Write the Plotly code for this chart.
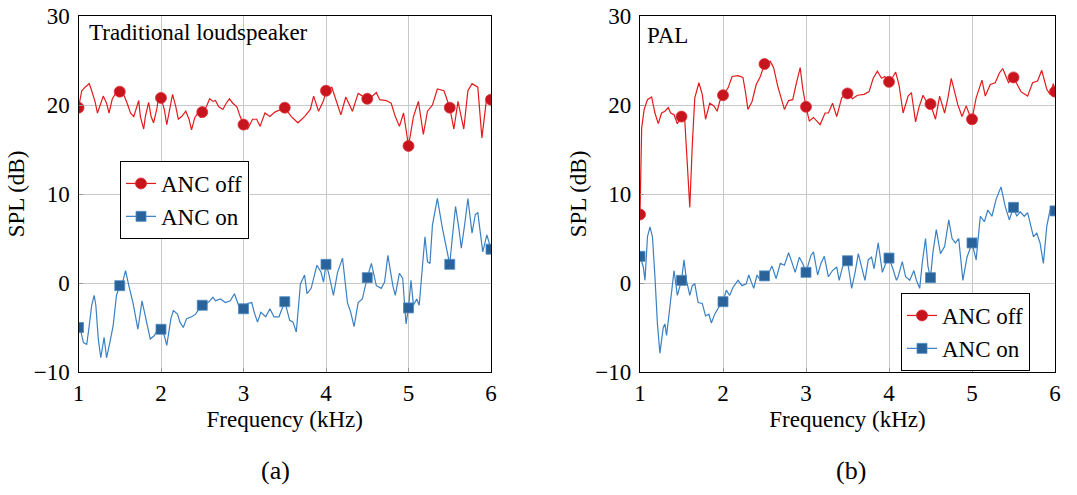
import plotly.graph_objects as go

# ---------------- data ----------------
# Panel (a): traditional loudspeaker, ANC off
fa_off = [1.00, 1.04, 1.08, 1.13, 1.16, 1.20, 1.23, 1.27, 1.30, 1.34, 1.37, 1.41, 1.45, 1.50,
          1.55, 1.59, 1.63, 1.67, 1.73, 1.75, 1.79, 1.81, 1.85, 1.88, 1.91, 1.95, 1.97, 2.00,
          2.04, 2.07, 2.11, 2.14, 2.18, 2.21, 2.25, 2.30, 2.34, 2.37, 2.41, 2.45, 2.48, 2.50,
          2.55, 2.59, 2.63, 2.66, 2.70, 2.75, 2.79, 2.83, 2.87, 2.92, 2.96, 3.00, 3.05, 3.11,
          3.16, 3.20, 3.26, 3.32, 3.38, 3.43, 3.50, 3.58, 3.66, 3.74, 3.81, 3.85, 3.91, 3.97,
          4.00, 4.07, 4.12, 4.18, 4.24, 4.32, 4.39, 4.46, 4.50, 4.55, 4.61, 4.65, 4.73, 4.79,
          4.84, 4.89, 4.94, 5.00, 5.06, 5.12, 5.18, 5.23, 5.29, 5.35, 5.43, 5.50, 5.55, 5.60,
          5.67, 5.72, 5.77, 5.84, 5.89, 5.95, 6.00]
va_off = [19.7, 21.6, 22.0, 22.4, 21.6, 20.4, 19.1, 20.2, 21.0, 20.2, 19.1, 20.7, 21.3, 21.5,
          21.1, 20.2, 19.1, 18.7, 20.5, 18.7, 17.3, 18.7, 20.3, 18.7, 18.0, 19.6, 20.9, 20.8,
          19.5, 17.8, 19.8, 21.2, 19.8, 18.4, 18.7, 19.3, 18.4, 17.2, 18.6, 19.1, 18.6, 19.2,
          19.8, 20.7, 20.4, 20.5, 19.8, 19.5, 20.2, 20.7, 20.2, 19.8, 18.7, 17.8, 17.3, 18.4,
          18.4, 17.6, 19.1, 18.7, 19.2, 19.4, 19.7, 18.7, 18.0, 18.7, 19.5, 21.0, 19.3, 20.5,
          21.6, 22.0, 20.5, 18.9, 20.9, 19.3, 21.3, 20.9, 20.7, 20.9, 21.4, 20.6, 20.5, 20.2,
          18.7, 17.6, 19.1, 15.4, 18.7, 20.4, 16.7, 19.3, 20.0, 21.8, 21.6, 19.7, 17.3, 20.4,
          17.3, 21.6, 22.4, 22.0, 16.3, 21.0, 20.6]

# Panel (a): ANC on
fa_on = [1.00, 1.03, 1.06, 1.10, 1.13, 1.16, 1.19, 1.21, 1.24, 1.27, 1.31, 1.34, 1.38, 1.42,
         1.46, 1.50, 1.54, 1.57, 1.61, 1.66, 1.69, 1.72, 1.77, 1.81, 1.87, 1.92, 1.96, 2.00,
         2.04, 2.07, 2.12, 2.15, 2.20, 2.23, 2.27, 2.31, 2.37, 2.42, 2.46, 2.50, 2.57, 2.63,
         2.66, 2.72, 2.78, 2.84, 2.89, 2.94, 3.00, 3.05, 3.10, 3.13, 3.17, 3.21, 3.27, 3.32,
         3.37, 3.43, 3.50, 3.56, 3.60, 3.64, 3.67, 3.69, 3.74, 3.77, 3.82, 3.85, 3.89, 3.94,
         3.97, 4.00, 4.03, 4.09, 4.14, 4.20, 4.26, 4.30, 4.34, 4.39, 4.44, 4.50, 4.55, 4.61,
         4.67, 4.71, 4.75, 4.81, 4.84, 4.89, 4.93, 4.97, 5.00, 5.03, 5.06, 5.10, 5.13, 5.17,
         5.20, 5.23, 5.26, 5.29, 5.35, 5.41, 5.47, 5.50, 5.53, 5.57, 5.61, 5.64, 5.68, 5.72,
         5.77, 5.81, 5.84, 5.90, 5.95, 6.00]
va_on = [-5.0, -5.5, -6.7, -6.9, -4.8, -2.5, -1.4, -2.5, -6.3, -8.4, -6.1, -8.4, -6.7, -4.8,
         -1.4, -0.3, 0.3, 1.4, -0.3, -2.2, -3.7, -5.2, -2.0, -3.7, -6.3, -5.9, -5.2, -5.2,
         -5.9, -7.0, -4.0, -3.1, -3.5, -4.4, -5.0, -4.0, -3.8, -3.5, -2.9, -2.5, -2.2, -1.6,
         -2.0, -1.8, -2.2, -2.0, -1.2, -2.5, -2.9, -2.3, -2.2, -3.3, -4.4, -3.3, -3.8, -2.9,
         -3.8, -3.8, -2.1, -4.2, -4.4, -5.5, -2.2, -0.1, 0.9, -1.2, -0.6, 0.5, 2.0, 1.2,
         0.1, 2.1, 1.2, -1.4, 1.2, 2.8, -2.2, -3.3, -4.9, -2.2, -1.8, 0.6, 2.2, -0.3,
         -0.6, 0.1, 3.1, -0.3, -1.4, 1.1, 0.5, -4.6, -2.8, 0.3, -2.5, -1.8, -2.5, 2.0,
         5.2, 2.4, 2.2, 6.5, 9.5, 6.2, 3.5, 2.1, 5.0, 8.6, 6.2, 3.9, 6.5, 9.5,
         5.6, 7.7, 7.9, 3.5, 5.4, 3.8]

# Panel (b): PAL, ANC off
fb_off = [1.00, 1.02, 1.05, 1.09, 1.14, 1.18, 1.22, 1.26, 1.30, 1.34, 1.37, 1.41, 1.45, 1.50,
          1.54, 1.57, 1.60, 1.63, 1.66, 1.71, 1.75, 1.79, 1.84, 1.89, 1.93, 1.96, 2.00, 2.06,
          2.11, 2.18, 2.24, 2.27, 2.30, 2.35, 2.40, 2.45, 2.50, 2.57, 2.61, 2.66, 2.70, 2.74,
          2.79, 2.84, 2.88, 2.93, 2.96, 3.00, 3.04, 3.09, 3.17, 3.23, 3.27, 3.32, 3.37, 3.43,
          3.50, 3.56, 3.62, 3.70, 3.76, 3.81, 3.86, 3.91, 3.95, 4.00, 4.05, 4.08, 4.12, 4.17,
          4.23, 4.27, 4.32, 4.36, 4.41, 4.45, 4.50, 4.56, 4.61, 4.67, 4.71, 4.75, 4.79, 4.83,
          4.88, 4.93, 4.97, 5.00, 5.05, 5.12, 5.16, 5.22, 5.28, 5.33, 5.37, 5.44, 5.50, 5.55,
          5.59, 5.67, 5.73, 5.79, 5.84, 5.90, 5.94, 5.98, 6.00]
vb_off = [7.7, 17.4, 19.5, 20.6, 20.9, 19.1, 17.9, 19.1, 19.3, 19.7, 19.1, 18.9, 17.9, 18.7,
          18.2, 13.7, 8.5, 15.5, 20.8, 22.5, 21.2, 18.4, 20.2, 19.9, 19.3, 20.4, 21.1, 21.9,
          23.2, 23.3, 23.1, 21.5, 19.5, 20.4, 22.3, 23.2, 24.6, 24.9, 24.2, 22.1, 20.8, 19.5,
          20.5, 20.6, 22.3, 24.2, 21.9, 19.8, 18.2, 18.6, 17.8, 19.1, 19.1, 20.2, 18.7, 20.8,
          21.3, 20.7, 21.1, 21.2, 21.5, 23.0, 23.8, 23.0, 23.2, 22.6, 23.2, 23.7, 22.3, 19.1,
          21.0, 21.4, 18.1, 19.7, 21.1, 20.4, 20.1, 18.4, 21.0, 19.1, 20.8, 23.0, 21.5, 20.0,
          18.7, 19.9, 18.9, 18.4, 20.8, 22.8, 21.0, 22.3, 22.5, 23.6, 24.1, 22.5, 23.1, 22.3,
          21.5, 21.0, 22.5, 22.7, 23.9, 21.8, 21.2, 22.4, 21.5]

# Panel (b): ANC on
fb_on = [1.00, 1.04, 1.06, 1.09, 1.12, 1.15, 1.18, 1.21, 1.24, 1.28, 1.30, 1.32, 1.36, 1.39,
         1.41, 1.45, 1.50, 1.53, 1.56, 1.60, 1.63, 1.66, 1.70, 1.75, 1.79, 1.83, 1.86, 1.90,
         1.95, 2.00, 2.04, 2.08, 2.12, 2.18, 2.23, 2.28, 2.31, 2.37, 2.41, 2.45, 2.50, 2.54,
         2.59, 2.64, 2.69, 2.74, 2.79, 2.82, 2.87, 2.92, 2.96, 3.00, 3.06, 3.09, 3.14, 3.18,
         3.22, 3.27, 3.32, 3.37, 3.40, 3.44, 3.50, 3.55, 3.59, 3.63, 3.68, 3.71, 3.75, 3.79,
         3.82, 3.87, 3.92, 3.96, 4.00, 4.04, 4.09, 4.11, 4.16, 4.20, 4.25, 4.30, 4.33, 4.37,
         4.40, 4.44, 4.47, 4.50, 4.53, 4.57, 4.62, 4.67, 4.72, 4.76, 4.80, 4.84, 4.89, 4.94,
         5.00, 5.05, 5.10, 5.15, 5.19, 5.24, 5.29, 5.35, 5.40, 5.45, 5.50, 5.54, 5.58, 5.63,
         5.67, 5.70, 5.74, 5.78, 5.82, 5.86, 5.90, 5.94, 6.00]
vb_on = [3.0, 1.8, 0.3, 5.2, 6.3, 5.2, 0.7, -4.6, -7.9, -5.0, -4.6, -5.9, -2.7, -0.1,
         1.4, -1.4, 0.3, 2.6, 0.3, -1.4, -0.3, -0.1, -2.2, -2.3, -3.7, -3.5, -4.5, -3.5,
         -2.7, -2.1, -0.8, -1.4, -0.5, 0.3, -0.3, -0.1, 0.9, -0.6, 0.9, 0.3, 0.8, 0.9,
         1.9, 0.5, 2.2, 2.0, 3.4, 2.6, 1.2, 2.9, 2.2, 1.2, 3.1, 3.5, 0.9, 2.2,
         3.0, 0.7, 1.4, 1.8, 0.3, 1.8, 2.5, -0.6, 1.1, 3.3, 1.4, 0.3, 2.6, 2.9,
         1.6, 4.5, 1.2, 2.2, 2.8, 1.8, 0.3, 0.7, 2.4, 0.7, 0.3, 1.4, 0.3, -0.6,
         2.2, 5.0, 1.8, 0.6, 3.5, 6.0, 3.3, 4.1, 7.1, 5.0, 4.5, 5.0, 0.3, 2.9,
         4.5, 2.6, 7.5, 6.9, 8.2, 7.5, 9.4, 10.8, 8.6, 7.1, 8.5, 7.5, 8.0, 7.5,
         7.9, 6.7, 5.2, 5.6, 4.5, 2.2, 6.3, 8.2, 8.1]

# Marker positions (every 0.5 kHz) and their values
mk_f = [1.0, 1.5, 2.0, 2.5, 3.0, 3.5, 4.0, 4.5, 5.0, 5.5, 6.0]
mk_a_off = [19.7, 21.5, 20.8, 19.2, 17.8, 19.7, 21.6, 20.7, 15.4, 19.7, 20.6]
mk_a_on = [-5.0, -0.3, -5.2, -2.5, -2.9, -2.1, 2.1, 0.6, -2.8, 2.1, 3.8]
mk_b_off = [7.7, 18.7, 21.1, 24.6, 19.8, 21.3, 22.6, 20.1, 18.4, 23.1, 21.5]
mk_b_on = [3.0, 0.3, -2.1, 0.8, 1.2, 2.5, 2.8, 0.6, 4.5, 8.5, 8.1]

series_names = ["ANC off", "ANC on"]
panel_titles = ["Traditional loudspeaker", "PAL"]
panel_labels = ["(a)", "(b)"]
x_ticks = [1, 2, 3, 4, 5, 6]
y_ticks = [-10, 0, 10, 20, 30]

# ---------------- styling ----------------
FONT = "Liberation Serif"
FS = 23
RED_LINE = "#e31a1c"
RED_MK = "#c8141c"
BLUE_LINE = "#3a80c2"
BLUE_MK = "#2a6399"
GRID = "#c8c8c8"

W, H = 1077, 495
fig = go.Figure()


def gapped(xs, ys):
    gx, gy = [], []
    for x, y in zip(xs, ys):
        gx += [x, None]
        gy += [y, None]
    return gx, gy


def add_panel(xa, ya, leg, f_off, v_off, f_on, v_on, m_off, m_on):
    fig.add_trace(go.Scatter(x=f_off, y=v_off, mode="lines", line=dict(color=RED_LINE, width=1.2),
                             xaxis=xa, yaxis=ya, showlegend=False, hoverinfo="skip"))
    fig.add_trace(go.Scatter(x=f_on, y=v_on, mode="lines", line=dict(color=BLUE_LINE, width=1.2),
                             xaxis=xa, yaxis=ya, showlegend=False, hoverinfo="skip"))
    gx, gy = gapped(mk_f, m_off)
    fig.add_trace(go.Scatter(x=gx, y=gy, mode="lines+markers", name=series_names[0],
                             connectgaps=False, line=dict(color=RED_LINE, width=1.2),
                             marker=dict(symbol="circle", size=11, color=RED_MK,
                                         line=dict(color="#d9333a", width=0.8)),
                             xaxis=xa, yaxis=ya, legend=leg))
    gx, gy = gapped(mk_f, m_on)
    fig.add_trace(go.Scatter(x=gx, y=gy, mode="lines+markers", name=series_names[1],
                             connectgaps=False, line=dict(color=BLUE_LINE, width=1.2),
                             marker=dict(symbol="square", size=10, color=BLUE_MK,
                                         line=dict(color="#4f8cc4", width=0.8)),
                             xaxis=xa, yaxis=ya, legend=leg))


add_panel("x", "y", "legend", fa_off, va_off, fa_on, va_on, mk_a_off, mk_a_on)
add_panel("x2", "y2", "legend2", fb_off, vb_off, fb_on, vb_on, mk_b_off, mk_b_on)

ytop, ybot = 16, 372
ydom = [1 - ybot / H, 1 - ytop / H]
xdom_a = [78.5 / W, 491 / W]
xdom_b = [640 / W, 1055 / W]

axis_common = dict(showline=True, linecolor="black", linewidth=1.2, mirror=True,
                   showgrid=True, gridcolor=GRID, gridwidth=1, zeroline=False,
                   ticks="inside", ticklen=4, tickcolor="#999999", automargin=False,
                   tickfont=dict(family=FONT, size=FS, color="black"),
                   title_font=dict(family=FONT, size=FS, color="black"))

xa_cfg = dict(range=[1, 6], tickvals=x_ticks, title_text="Frequency (kHz)",
              title_standoff=6, ticklabelstandoff=0, **axis_common)
ya_cfg = dict(range=[-10, 30], tickvals=y_ticks, title_text="SPL (dB)",
              title_standoff=2, ticklabelstandoff=3, **axis_common)

legend_common = dict(xanchor="left", yanchor="top", bgcolor="white", bordercolor="black",
                     borderwidth=1, font=dict(family=FONT, size=FS, color="black"),
                     tracegroupgap=0, itemwidth=30)

fig.update_layout(
    width=W, height=H, margin=dict(l=0, r=0, t=0, b=0, autoexpand=False),
    paper_bgcolor="white", plot_bgcolor="white",
    font=dict(family=FONT, size=FS, color="black"),
    xaxis=dict(domain=xdom_a, anchor="y", **xa_cfg),
    yaxis=dict(domain=ydom, anchor="x", **ya_cfg),
    xaxis2=dict(domain=xdom_b, anchor="y2", **xa_cfg),
    yaxis2=dict(domain=ydom, anchor="x2", **ya_cfg),
    legend=dict(x=120 / W, y=1 - 161 / H, **legend_common),
    legend2=dict(x=901 / W, y=1 - 293 / H, **legend_common),
    annotations=[
        dict(text=panel_titles[0], xref="paper", yref="paper", x=87 / W, y=1 - 33 / H,
             xanchor="left", yanchor="middle", showarrow=False,
             font=dict(family=FONT, size=FS, color="black")),
        dict(text=panel_titles[1], xref="paper", yref="paper", x=645 / W, y=1 - 35 / H,
             xanchor="left", yanchor="middle", showarrow=False,
             font=dict(family=FONT, size=FS, color="black")),
        dict(text=panel_labels[0], xref="paper", yref="paper", x=275 / W, y=1 - 470 / H,
             xanchor="center", yanchor="middle", showarrow=False,
             font=dict(family=FONT, size=26, color="black")),
        dict(text=panel_labels[1], xref="paper", yref="paper", x=851 / W, y=1 - 470 / H,
             xanchor="center", yanchor="middle", showarrow=False,
             font=dict(family=FONT, size=26, color="black")),
    ],
)

fig.write_html("out.html", config={"displayModeBar": False},
               post_script="document.body.style.margin='0';")
